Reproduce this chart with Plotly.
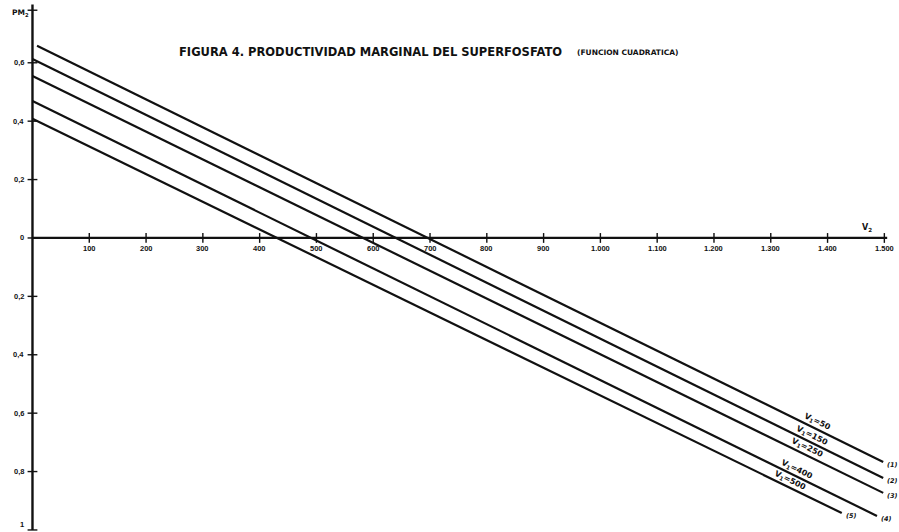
import math
import plotly.graph_objects as go

# Marginal productivity of superphosphate (PM2) vs. V2, one straight line per V1 level
V1 = [50, 150, 250, 400, 500]
curve_ids = ["(1)", "(2)", "(3)", "(4)", "(5)"]
v2_start = [8, 0, 0, 0, 0]
pm_start = [0.658, 0.613, 0.555, 0.469, 0.408]
v2_end = [1498, 1498, 1498, 1487, 1425]
pm_end = [-0.767, -0.822, -0.873, -0.952, -0.942]
label_v2 = [1378, 1369, 1360, 1343, 1331]

x_ticks = [100, 200, 300, 400, 500, 600, 700, 800, 900, 1000, 1100, 1200, 1300, 1400, 1500]
x_tick_text = ["100", "200", "300", "400", "500", "600", "700", "800", "900",
               "1.000", "1.100", "1.200", "1.300", "1.400", "1.500"]
y_ticks = [0.6, 0.4, 0.2, 0, -0.2, -0.4, -0.6, -0.8, -1.0]
y_tick_text = ["0,6", "0,4", "0,2", "0", "0,2", "0,4", "0,6", "0,8", "1"]

W, H = 899, 532
X_RANGE = [-57.2, 1525.8]
Y_RANGE = [-1.007, 0.815]
INK = "#111111"
FONT = "DejaVu Sans"

px_per_x = W / (X_RANGE[1] - X_RANGE[0])
px_per_y = H / (Y_RANGE[1] - Y_RANGE[0])

fig = go.Figure()

# axes drawn in data space
fig.add_trace(go.Scatter(x=[0, 1505], y=[0, 0], mode="lines",
                         line=dict(color=INK, width=2.2), hoverinfo="skip"))
fig.add_trace(go.Scatter(x=[0, 0], y=[-1.0, 0.80], mode="lines",
                         line=dict(color=INK, width=2.4), hoverinfo="skip"))
fig.add_trace(go.Scatter(x=x_ticks, y=[0] * len(x_ticks), mode="markers",
                         marker=dict(symbol="line-ns", size=7,
                                     line=dict(color=INK, width=1.4)),
                         hoverinfo="skip"))
fig.add_trace(go.Scatter(x=[0] * len(y_ticks) + [0], y=y_ticks + [0.78], mode="markers",
                         marker=dict(symbol="line-ew", size=7,
                                     line=dict(color=INK, width=1.4)),
                         hoverinfo="skip"))

annotations = []

# productivity lines
for i, v1 in enumerate(V1):
    fig.add_trace(go.Scatter(x=[v2_start[i], v2_end[i]], y=[pm_start[i], pm_end[i]],
                             mode="lines", line=dict(color=INK, width=2.2),
                             hoverinfo="skip"))
    slope = (pm_end[i] - pm_start[i]) / (v2_end[i] - v2_start[i])
    angle = math.degrees(math.atan(-slope * px_per_y / px_per_x))
    lx = label_v2[i]
    ly = pm_start[i] + slope * (lx - v2_start[i])
    annotations.append(dict(x=lx, y=ly, xref="x", yref="y",
                            text=f"V<sub>1</sub>={v1}", showarrow=False,
                            textangle=angle, xshift=2, yshift=6,
                            font=dict(family=FONT, size=8, color=INK, weight="bold")))
    annotations.append(dict(x=v2_end[i], y=pm_end[i], xref="x", yref="y",
                            text=f"<i>{curve_ids[i]}</i>", showarrow=False,
                            xanchor="left", xshift=2, yshift=-3,
                            font=dict(family=FONT, size=6.5, color=INK, weight="bold")))

# tick labels
for xv, xt in zip(x_ticks, x_tick_text):
    annotations.append(dict(x=xv, y=0, xref="x", yref="y", text=xt, showarrow=False,
                            yanchor="top", yshift=-4,
                            font=dict(family="Liberation Sans", size=7.5, color=INK,
                                      weight="bold")))
for yv, yt in zip(y_ticks, y_tick_text):
    last = yv == y_ticks[-1]
    annotations.append(dict(x=0, y=yv, xref="x", yref="y", text=yt, showarrow=False,
                            xanchor="right", xshift=-6,
                            yanchor="bottom" if last else "middle",
                            yshift=-1 if last else 0,
                            font=dict(family="Liberation Sans", size=7.5, color=INK,
                                      weight="bold")))

# axis names
annotations.append(dict(x=0, y=0.80, xref="x", yref="y", text="PM<sub>2</sub>",
                        showarrow=False, xanchor="right", xshift=-1, yshift=-9,
                        font=dict(family=FONT, size=7.5, color=INK, weight="bold")))
annotations.append(dict(x=1470, y=0, xref="x", yref="y", text="V<sub>2</sub>",
                        showarrow=False, yanchor="bottom", yshift=3,
                        font=dict(family=FONT, size=8, color=INK, weight="bold")))

# title
annotations.append(dict(x=177 / W, y=1 - 52 / H, xref="paper", yref="paper",
                        text="FIGURA 4. PRODUCTIVIDAD MARGINAL DEL SUPERFOSFATO",
                        showarrow=False, xanchor="left", yanchor="middle",
                        font=dict(family=FONT, size=11.5, color=INK, weight="bold")))
annotations.append(dict(x=575 / W, y=1 - 52 / H, xref="paper", yref="paper",
                        text="(FUNCION CUADRATICA)",
                        showarrow=False, xanchor="left", yanchor="middle",
                        font=dict(family=FONT, size=7.5, color=INK, weight="bold")))

fig.update_layout(
    width=W, height=H,
    margin=dict(l=0, r=0, t=0, b=0),
    paper_bgcolor="white", plot_bgcolor="white",
    showlegend=False,
    xaxis=dict(range=X_RANGE, visible=False, fixedrange=True),
    yaxis=dict(range=Y_RANGE, visible=False, fixedrange=True),
    annotations=annotations,
)

fig.write_html("out.html")
